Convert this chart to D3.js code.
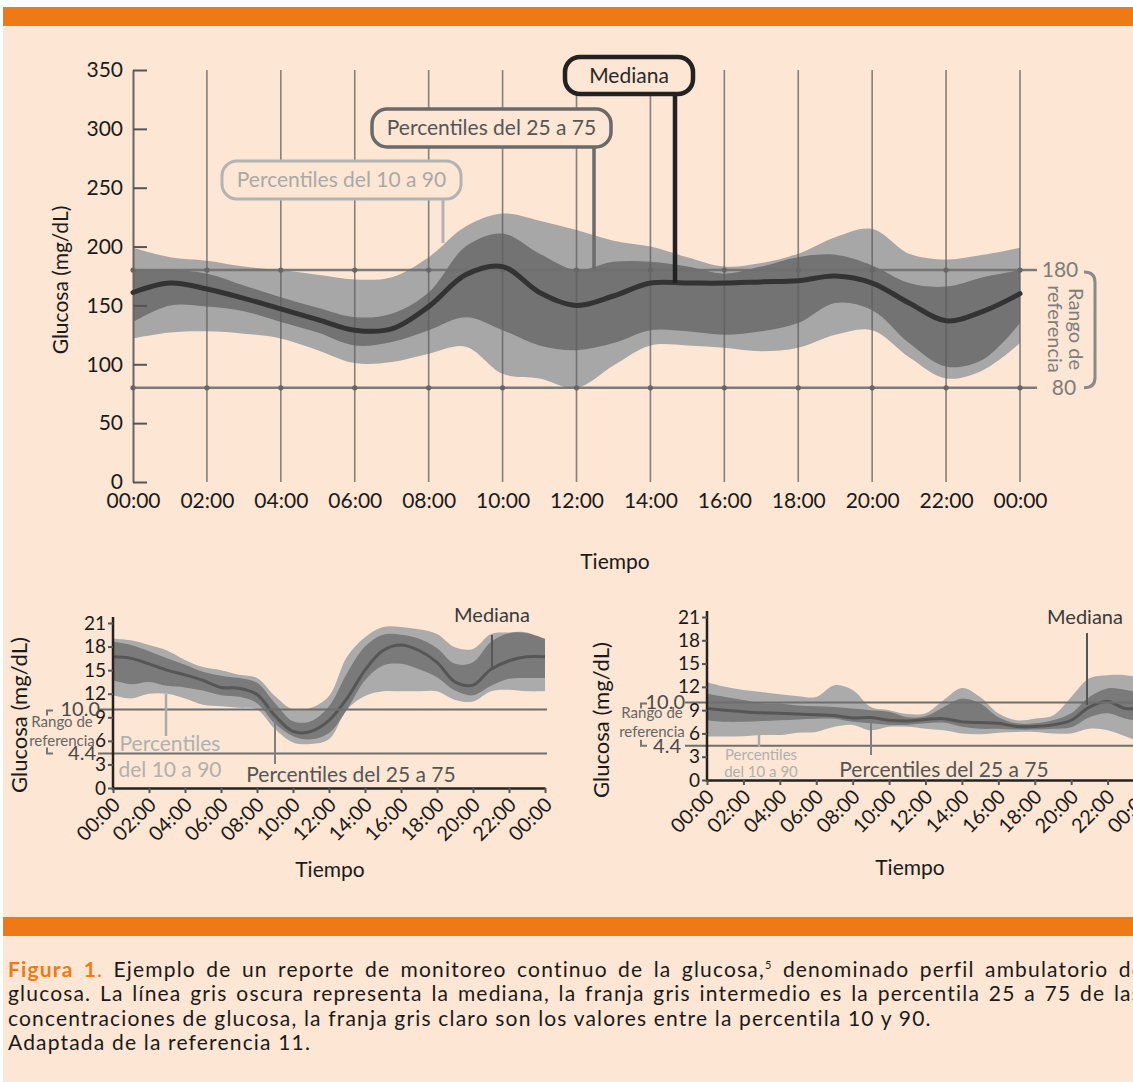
<!DOCTYPE html>
<html lang="es">
<head>
<meta charset="UTF-8">
<title>Perfil ambulatorio de glucosa</title>
<script src="https://d3js.org/d3.v7.min.js"></script>
<style>
  body { margin: 0; background: #fff; }
  svg { display: block; font-family: Lato, "Open Sans", sans-serif; }
  .tick line { stroke: #555; }
</style>
</head>
<body>
<svg id="fig" width="1133" height="1082"></svg>
<script>
// horas del día y etiquetas
const horas = [0,1,2,3,4,5,6,7,8,9,10,11,12,13,14,15,16,17,18,19,20,21,22,23,24];
const horasTick = [0,2,4,6,8,10,12,14,16,18,20,22,24];
const etiquetasHora = ["00:00","02:00","04:00","06:00","08:00","10:00","12:00","14:00","16:00","18:00","20:00","22:00","00:00"];

// gráfica principal (mg/dL)
const ticksMain = [0,50,100,150,200,250,300,350];
const rangoMain = [80,180];
const p10 = [122,127,128,126,122,112,101,102,109,115,92,88,80,99,116,116,114,111,114,125,129,106,88,95,118];
const p25 = [136,150,149,145,136,127,116,119,129,140,129,116,112,118,129,128,125,128,135,152,146,118,98,104,135];
const mediana = [161,169,164,156,147,138,129,130,149,176,183,161,150,158,169,169,169,170,171,175,169,152,137,145,160];
const p75 = [180,180,177,167,157,148,140,143,161,200,211,194,180,187,187,183,177,183,191,193,184,169,166,174,180];
const p90 = [199,191,188,183,180,176,172,174,191,217,228,222,214,205,200,191,183,186,194,208,215,194,189,193,199];

// gráficas pequeñas (mmol/L)
const ticksSmall = [0,3,6,9,12,15,18,21];
const rangoSmall = [4.4,10.0];
const izqP10 = [11.8,11.4,12.0,12.0,11.4,10.6,10.4,10.2,10.0,7.5,5.8,5.6,6.2,10.0,11.7,12.3,12.3,12.3,12.3,11.2,11.0,12.3,12.5,12.3,12.3];
const izqP25 = [13.7,13.2,13.5,13.0,12.8,12.4,11.8,11.6,10.8,8.2,6.6,6.2,7.0,10.0,13.7,15.6,15.8,15.1,14.1,12.4,11.8,13.0,13.9,14.0,14.0];
const izqMed = [16.7,16.5,15.8,15.0,14.4,13.7,12.8,12.7,11.9,9.2,7.2,7.2,8.6,11.4,15.0,17.5,18.2,17.5,16.0,13.5,13.1,15.1,16.2,16.7,16.7];
const izqP75 = [18.6,18.2,17.4,16.5,15.7,14.8,14.3,14.0,13.4,10.8,8.5,8.5,10.4,14.6,18.0,19.5,19.5,19.0,17.8,15.8,16.0,18.6,19.7,19.7,19.0];
const izqP90 = [19.0,18.8,18.2,17.5,16.3,15.4,15.0,14.4,14.0,11.7,10.0,10.2,11.7,16.7,19.2,20.5,20.5,20.2,19.6,17.9,17.7,19.6,19.8,19.8,18.8];

const derP10 = [5.6,5.6,5.65,5.8,5.8,6.1,6.2,6.85,7.1,6.4,6.85,6.85,6.6,6.4,6.0,5.9,6.1,6.2,6.2,6.0,6.0,6.6,6.4,5.6,4.7];
const derP25 = [7.7,7.5,7.5,7.6,7.7,7.8,7.9,7.9,7.5,7.3,7.1,7.1,7.3,7.4,6.85,6.6,6.6,6.5,6.5,6.6,6.8,8.1,8.6,7.9,7.5];
const derMed = [9.2,9.0,8.8,8.65,8.6,8.5,8.4,8.3,8.0,8.05,7.7,7.6,7.8,7.9,7.5,7.4,7.3,6.9,6.9,7.1,7.7,9.4,10.1,9.2,9.4];
const derP75 = [11.1,10.7,10.3,9.9,9.85,9.6,9.5,9.4,9.2,9.0,8.8,8.1,8.2,9.4,10.5,9.85,8.1,7.3,7.3,7.7,8.6,10.7,11.8,11.6,11.1];
const derP90 = [12.6,12.0,11.6,11.35,11.05,10.8,10.7,12.2,11.6,9.4,9.0,8.5,8.6,10.3,11.85,10.7,8.6,7.7,7.9,8.3,10.7,13.1,13.5,13.5,13.1];

const PEACH = "#fde6d4", ORANGE = "#ef7a15";
const svg = d3.select("#fig");

// fondo y franjas naranjas
svg.append("rect").attr("x", 3).attr("y", 7).attr("width", 1130).attr("height", 1075).attr("fill", PEACH);
svg.append("rect").attr("x", 3).attr("y", 7).attr("width", 1130).attr("height", 19).attr("fill", ORANGE);
svg.append("rect").attr("x", 3).attr("y", 917).attr("width", 1130).attr("height", 19).attr("fill", ORANGE);

function banda(x, y, lo, hi) {
    return d3.area().x((d, i) => x(horas[i])).y0((d, i) => y(lo[i])).y1((d, i) => y(hi[i]))
        .curve(d3.curveCatmullRom.alpha(0.5))(horas);
}
function linea(x, y, v) {
    return d3.line().x((d, i) => x(horas[i])).y((d, i) => y(v[i]))
        .curve(d3.curveCatmullRom.alpha(0.5))(horas);
}

// ---------------- gráfica principal ----------------
const x = d3.scaleLinear().domain([0, 24]).range([133, 1020]);
const y = d3.scaleLinear().domain([0, 350]).range([482, 70]);
const g = svg.append("g");

g.append("path").attr("d", banda(x, y, p10, p90)).attr("fill", "#a7a7a7");
g.append("path").attr("d", banda(x, y, p25, p75)).attr("fill", "#737373");

// rejilla vertical
g.selectAll(".vgrid").data(horasTick.slice(1)).enter().append("line")
    .attr("x1", d => x(d)).attr("x2", d => x(d)).attr("y1", y(350)).attr("y2", y(0))
    .attr("stroke", "#5e5e5e").attr("stroke-opacity", 0.75).attr("stroke-width", 1.6);

// líneas del rango de referencia
g.selectAll(".hr").data(rangoMain).enter().append("line")
    .attr("x1", x(0)).attr("x2", 1037).attr("y1", d => y(d)).attr("y2", d => y(d))
    .attr("stroke", "#6f6f6f").attr("stroke-opacity", 0.9).attr("stroke-width", 2.5);
rangoMain.forEach(r => {
    g.selectAll(null).data(horasTick).enter().append("circle")
        .attr("cx", d => x(d)).attr("cy", y(r)).attr("r", 2.6).attr("fill", "#666");
});

// eje y
const ay = g.append("g").attr("transform", `translate(${x(0)},0)`)
    .call(d3.axisLeft(y).tickValues(ticksMain).tickSizeInner(-14).tickSizeOuter(0).tickPadding(10));
ay.select(".domain").attr("stroke", "#666").attr("stroke-width", 2);
ay.selectAll(".tick line").attr("stroke", "#666").attr("stroke-width", 2);
ay.selectAll(".tick text").attr("font-size", 21).attr("fill", "#1a1a1a").attr("font-family", "Lato");

// eje x
const ax = g.append("g").attr("transform", `translate(0,${y(0)})`)
    .call(d3.axisBottom(x).tickValues(horasTick).tickFormat((d, i) => etiquetasHora[i]).tickSize(0).tickPadding(11));
ax.select(".domain").remove();
ax.selectAll(".tick text").attr("font-size", 21).attr("fill", "#1a1a1a").attr("font-family", "Lato");

// mediana
g.append("path").attr("d", linea(x, y, mediana)).attr("fill", "none")
    .attr("stroke", "#333").attr("stroke-width", 5).attr("stroke-linecap", "round");

// títulos de ejes
g.append("text").attr("x", 615).attr("y", 569).attr("text-anchor", "middle")
    .attr("font-size", 21).attr("fill", "#1a1a1a").text("Tiempo");
g.append("text").attr("transform", "translate(68,280) rotate(-90)").attr("text-anchor", "middle")
    .attr("font-size", 21).attr("fill", "#1a1a1a").text("Glucosa (mg/dL)");

// etiquetas del rango a la derecha
g.append("text").attr("x", 1060).attr("y", y(180) + 7).attr("text-anchor", "middle")
    .attr("font-size", 21).attr("fill", "#7d7d7d").text("180");
g.append("text").attr("x", 1064).attr("y", y(80) + 7).attr("text-anchor", "middle")
    .attr("font-size", 21).attr("fill", "#7d7d7d").text("80");
g.append("path")
    .attr("d", `M1084,${y(180) + 2} Q1095,${y(180) + 2} 1095,${y(180) + 12} L1095,${y(80) - 10} Q1095,${y(80)} 1084,${y(80)}`)
    .attr("fill", "none").attr("stroke", "#8a8a8a").attr("stroke-width", 3);
const rango = g.append("text").attr("transform", `translate(1069,${(y(180) + y(80)) / 2}) rotate(90)`)
    .attr("text-anchor", "middle").attr("font-size", 20).attr("fill", "#7d7d7d");
rango.append("tspan").attr("x", 0).attr("dy", 0).text("Rango de");
rango.append("tspan").attr("x", 0).attr("dy", "1.05em").text("referencia");

// recuadros de anotación
function recuadro(x0, y0, w, h, texto, color, colorTexto, grosor, lx, ly2) {
    g.append("line").attr("x1", lx).attr("x2", lx).attr("y1", y0 + h).attr("y2", ly2)
        .attr("stroke", color).attr("stroke-width", grosor);
    g.append("rect").attr("x", x0).attr("y", y0).attr("width", w).attr("height", h)
        .attr("rx", 15).attr("fill", PEACH).attr("stroke", color).attr("stroke-width", grosor);
    g.append("text").attr("x", x0 + w / 2).attr("y", y0 + h / 2 + 7).attr("text-anchor", "middle")
        .attr("font-size", 21).attr("fill", colorTexto).text(texto);
}
recuadro(222, 161, 239, 38, "Percentiles del 10 a 90", "#b3b3b3", "#a9a9a9", 3, 443, y(203));
recuadro(372, 109, 239, 38, "Percentiles del 25 a 75", "#6a6a6a", "#555", 3.5, 594, y(181));
recuadro(565, 57, 128, 37, "Mediana", "#222", "#2a2a2a", 4.5, 675, y(mediana[15]));

// ---------------- gráficas pequeñas ----------------
function pequena(cfg) {
    const xs = d3.scaleLinear().domain([0, 24]).range([cfg.x0, cfg.x1]);
    const ys = d3.scaleLinear().domain([0, 21]).range([cfg.y0, cfg.y1]);
    const s = svg.append("g");

    s.append("path").attr("d", banda(xs, ys, cfg.p10, cfg.p90)).attr("fill", "#ababab");
    s.append("path").attr("d", banda(xs, ys, cfg.p25, cfg.p75)).attr("fill", "#7a7a7a");
    s.append("path").attr("d", linea(xs, ys, cfg.med)).attr("fill", "none")
        .attr("stroke", "#565656").attr("stroke-width", 3);

    // líneas de rango
    s.selectAll(null).data(rangoSmall).enter().append("line")
        .attr("x1", cfg.lineStart).attr("x2", cfg.x1 + 2).attr("y1", d => ys(d)).attr("y2", d => ys(d))
        .attr("stroke", "#6e6e6e").attr("stroke-width", 2);

    // ejes
    const a1 = s.append("g").attr("transform", `translate(${cfg.x0},0)`)
        .call(d3.axisLeft(ys).tickValues(ticksSmall).tickSizeInner(5).tickSizeOuter(0).tickPadding(2));
    a1.select(".domain").attr("stroke", "#222").attr("stroke-width", 2.5).attr("d", `M0,${cfg.y0 + 2}V${cfg.y1 - 6}`);
    a1.selectAll(".tick line").attr("stroke", "#222").attr("stroke-width", 2);
    a1.selectAll(".tick text").attr("font-size", 19).attr("fill", "#1a1a1a").attr("font-family", "Lato");

    const a2 = s.append("g").attr("transform", `translate(0,${cfg.y0})`)
        .call(d3.axisBottom(xs).tickValues(horasTick).tickFormat((d, i) => etiquetasHora[i]).tickSizeInner(5).tickSizeOuter(0));
    a2.select(".domain").attr("stroke", "#222").attr("stroke-width", 2.5);
    a2.selectAll(".tick line").attr("stroke", "#222").attr("stroke-width", 2);
    a2.selectAll(".tick text").attr("font-size", 20).attr("fill", "#1a1a1a").attr("font-family", "Lato")
        .attr("x", 0).attr("y", 0).attr("dy", "0.35em").style("text-anchor", "end")
        .attr("transform", "translate(3,13) rotate(-45)");

    // títulos
    s.append("text").attr("x", cfg.tiempoX).attr("y", cfg.tiempoY).attr("text-anchor", "middle")
        .attr("font-size", 21).attr("fill", "#1a1a1a").text("Tiempo");
    s.append("text").attr("transform", `translate(${cfg.glucX},${cfg.glucY}) rotate(-90)`).attr("text-anchor", "middle")
        .attr("font-size", 22).attr("fill", "#1a1a1a").text("Glucosa (mg/dL)");

    // etiquetas del rango
    const bx = cfg.bracketX;
    s.append("path").attr("d", `M${bx + 6},${ys(10) + 1}H${bx}V${ys(10) + 6}M${bx},${ys(4.4) - 6}V${ys(4.4)}H${bx + 6}`)
        .attr("fill", "none").attr("stroke", "#777").attr("stroke-width", 2);
    s.append("text").attr("x", cfg.labX).attr("y", ys(10) + 7).attr("text-anchor", "end")
        .attr("font-size", 20).attr("fill", "#4a4a4a").text("10.0");
    s.append("text").attr("x", cfg.labX - 4).attr("y", ys(4.4) + 7).attr("text-anchor", "end")
        .attr("font-size", 20).attr("fill", "#4a4a4a").text("4.4");
    s.append("text").attr("x", cfg.rangoX).attr("y", cfg.rangoY).attr("text-anchor", "middle")
        .attr("font-size", 15).attr("fill", "#666").text("Rango de");
    s.append("text").attr("x", cfg.rangoX).attr("y", cfg.rangoY + 19).attr("text-anchor", "middle")
        .attr("font-size", 15).attr("fill", "#666").text("referencia");

    // anotaciones
    s.append("line").attr("x1", cfg.medX).attr("x2", cfg.medX).attr("y1", cfg.medY1).attr("y2", cfg.medY2)
        .attr("stroke", "#555").attr("stroke-width", 2);
    s.append("text").attr("x", cfg.medTX).attr("y", cfg.medTY).attr("text-anchor", "middle")
        .attr("font-size", 20).attr("fill", "#3a3a3a").text("Mediana");

    s.append("line").attr("x1", cfg.l10X).attr("x2", cfg.l10X).attr("y1", cfg.l10Y1).attr("y2", cfg.l10Y2)
        .attr("stroke", "#aaa").attr("stroke-width", 2.5);
    s.append("text").attr("x", cfg.t10X).attr("y", cfg.t10Y).attr("text-anchor", "middle")
        .attr("font-size", cfg.t10Size).attr("fill", "#b0b0b0").text("Percentiles");
    s.append("text").attr("x", cfg.t10X).attr("y", cfg.t10Y + cfg.t10Gap).attr("text-anchor", "middle")
        .attr("font-size", cfg.t10Size).attr("fill", "#b0b0b0").text("del 10 a 90");

    s.append("line").attr("x1", cfg.l25X).attr("x2", cfg.l25X).attr("y1", cfg.l25Y1).attr("y2", cfg.l25Y2)
        .attr("stroke", "#808080").attr("stroke-width", 2);
    s.append("text").attr("x", cfg.t25X).attr("y", cfg.t25Y).attr("text-anchor", "middle")
        .attr("font-size", 21).attr("fill", "#555").text("Percentiles del 25 a 75");
}

pequena({
    x0: 113, x1: 545, y0: 788, y1: 623,
    p10: izqP10, p25: izqP25, med: izqMed, p75: izqP75, p90: izqP90,
    lineStart: 98, tiempoX: 330, tiempoY: 877, glucX: 27, glucY: 715,
    bracketX: 47, labX: 100, rangoX: 62, rangoY: 727,
    medX: 492, medY1: 635, medY2: 668, medTX: 492, medTY: 622,
    l10X: 166, l10Y1: 694, l10Y2: 736, t10X: 170, t10Y: 751, t10Gap: 26, t10Size: 21,
    l25X: 275, l25Y1: 720, l25Y2: 764, t25X: 351, t25Y: 782
});
pequena({
    x0: 707, x1: 1144, y0: 780, y1: 617,
    p10: derP10, p25: derP25, med: derMed, p75: derP75, p90: derP90,
    lineStart: 685, tiempoX: 910, tiempoY: 875, glucX: 609, glucY: 720,
    bracketX: 641, labX: 685, rangoX: 652, rangoY: 718,
    medX: 1087, medY1: 633, medY2: 705, medTX: 1085, medTY: 624,
    l10X: 759, l10Y1: 733, l10Y2: 747, t10X: 761, t10Y: 760, t10Gap: 17, t10Size: 15,
    l25X: 871, l25Y1: 723, l25Y2: 755, t25X: 944, t25Y: 777
});

// ---------------- pie de figura ----------------
const cap = svg.append("g").attr("font-size", 21).attr("fill", "#1a1a1a");
const l1 = cap.append("text").attr("x", 8).attr("y", 977);
l1.append("tspan").attr("fill", ORANGE).attr("font-weight", "bold").text("Figura 1");
l1.append("tspan").attr("fill", ORANGE).text(". ");
l1.append("tspan").text("Ejemplo de un reporte de monitoreo continuo de la glucosa,");
l1.append("tspan").attr("font-size", 11).attr("dy", -8).text("5");
l1.append("tspan").attr("dy", 8).text(" denominado perfil ambulatorio de");
const l2 = cap.append("text").attr("x", 8).attr("y", 1001)
    .text("glucosa. La línea gris oscura representa la mediana, la franja gris intermedio es la percentila 25 a 75 de las");
const l3 = cap.append("text").attr("x", 8).attr("y", 1026)
    .text("concentraciones de glucosa, la franja gris claro son los valores entre la percentila 10 y 90.");
const l4 = cap.append("text").attr("x", 8).attr("y", 1050).text("Adaptada de la referencia 11.");

// tracking del texto para igualar el ancho de la línea 3, y justificado de las líneas 1 y 2
const t3 = l3.text();
const ls = (924 - l3.node().getComputedTextLength()) / t3.length;
cap.attr("letter-spacing", ls);
[[l1, 1136], [l2, 1134]].forEach(([t, ancho]) => {
    const espacios = t.text().split(" ").length - 1;
    const w = t.node().getComputedTextLength();
    t.attr("word-spacing", (ancho - w) / espacios);
});
</script>
</body>
</html>
